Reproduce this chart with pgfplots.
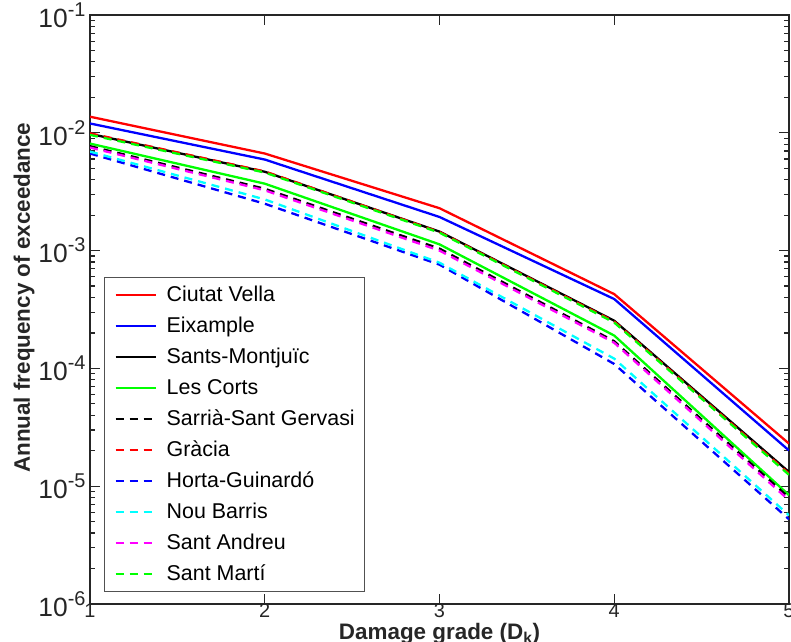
\documentclass[border=0pt]{standalone}
\usepackage{fontspec}
\setmainfont{Liberation Sans}
\usepackage{pgfplots}
\pgfplotsset{compat=1.18}
\definecolor{axgray}{RGB}{38,38,38}
\definecolor{mgreen}{RGB}{0,255,0}
\definecolor{mcyan}{RGB}{0,255,255}
\definecolor{mmag}{RGB}{255,0,255}
\newcommand{\tpow}[1]{10\raisebox{0.42em}{\fontsize{20}{22}\selectfont #1}}
\begin{document}
\begin{tikzpicture}
\useasboundingbox (0,0) rectangle (791bp,642bp);
\begin{axis}[
  at={(90bp,38bp)}, anchor=south west,
  width=699bp, height=589bp, scale only axis,
  xmin=1, xmax=5, ymode=log, ymin=1e-6, ymax=1e-1,
  xtick={1,2,3,4,5},
  ytick={1e-6,1e-5,1e-4,1e-3,1e-2,1e-1},
  yticklabels={\tpow{-6},\tpow{-5},\tpow{-4},\tpow{-3},\tpow{-2},\tpow{-1}},
  /pgf/number format/assume math mode=true,
  axis line style={axgray, line width=1.5bp},
  tick style={axgray, line width=1.2bp},
  major tick length=10bp, minor tick length=5bp,
  tick align=inside,
  xtick pos=both, ytick pos=both,
  ticklabel style={text=axgray},
  yticklabel style={font=\fontsize{26.5}{29}\selectfont, xshift=-1bp},
  xticklabel style={font=\fontsize{20}{22}\selectfont, anchor=base, inner sep=0pt, yshift=-13bp},
  xlabel={Damage grade (D\textsubscript{k})},
  ylabel={Annual frequency of exceedance},
  label style={font=\bfseries\fontsize{22.5}{26}\selectfont, text=axgray},
  xlabel style={at={(axis description cs:0.5,0)}, anchor=base, inner sep=0pt, yshift=-35.5bp},
  ylabel style={at={(axis description cs:-0.0944,0.52)}, anchor=center},
  legend cell align=left,
  legend image code/.code={\draw[#1] (0bp,0bp) -- (40bp,0bp); \path (50bp,0bp);},
  legend style={at={(0.02,0.02)}, anchor=south west, draw=axgray!80, line width=0.8bp,
    font=\fontsize{21.5}{25}\selectfont, text=black,
    nodes={inner sep=0pt, text height=16bp, text depth=4bp},
    row sep=11bp, inner xsep=10bp, inner ysep=7.5bp},
  every axis plot/.append style={line width=2.3bp},
]
\addplot[red] coordinates {(1,1.37e-2) (2,6.67e-3) (3,2.29e-3) (4,4.27e-4) (5,2.3e-5)};
\addlegendentry{Ciutat Vella}
\addplot[blue] coordinates {(1,1.2e-2) (2,5.93e-3) (3,1.93e-3) (4,3.88e-4) (5,2.01e-5)};
\addlegendentry{Eixample}
\addplot[black] coordinates {(1,9.8e-3) (2,4.67e-3) (3,1.45e-3) (4,2.54e-4) (5,1.32e-5)};
\addlegendentry{Sants-Montjuïc}
\addplot[mgreen] coordinates {(1,8.1e-3) (2,3.7e-3) (3,1.13e-3) (4,1.9e-4) (5,8.4e-6)};
\addlegendentry{Les Corts}
\addplot[black, dash pattern=on 8bp off 6bp] coordinates {(1,7.7e-3) (2,3.35e-3) (3,1.04e-3) (4,1.7e-4) (5,8.0e-6)};
\addlegendentry{Sarrià-Sant Gervasi}
\addplot[red, dash pattern=on 8bp off 6bp] coordinates {(1,9.9e-3) (2,4.7e-3) (3,1.44e-3) (4,2.5e-4) (5,1.28e-5)};
\addlegendentry{Gràcia}
\addplot[blue, dash pattern=on 8bp off 6bp] coordinates {(1,6.67e-3) (2,2.5e-3) (3,7.6e-4) (4,1.09e-4) (5,5.24e-6)};
\addlegendentry{Horta-Guinardó}
\addplot[mcyan, dash pattern=on 8bp off 6bp] coordinates {(1,6.93e-3) (2,2.72e-3) (3,7.9e-4) (4,1.21e-4) (5,5.66e-6)};
\addlegendentry{Nou Barris}
\addplot[mmag, dash pattern=on 8bp off 6bp] coordinates {(1,7.5e-3) (2,3.25e-3) (3,1.0e-3) (4,1.65e-4) (5,7.6e-6)};
\addlegendentry{Sant Andreu}
\addplot[mgreen, dash pattern=on 8bp off 6bp] coordinates {(1,9.6e-3) (2,4.6e-3) (3,1.42e-3) (4,2.45e-4) (5,1.25e-5)};
\addlegendentry{Sant Martí}
\end{axis}
\end{tikzpicture}
\end{document}
